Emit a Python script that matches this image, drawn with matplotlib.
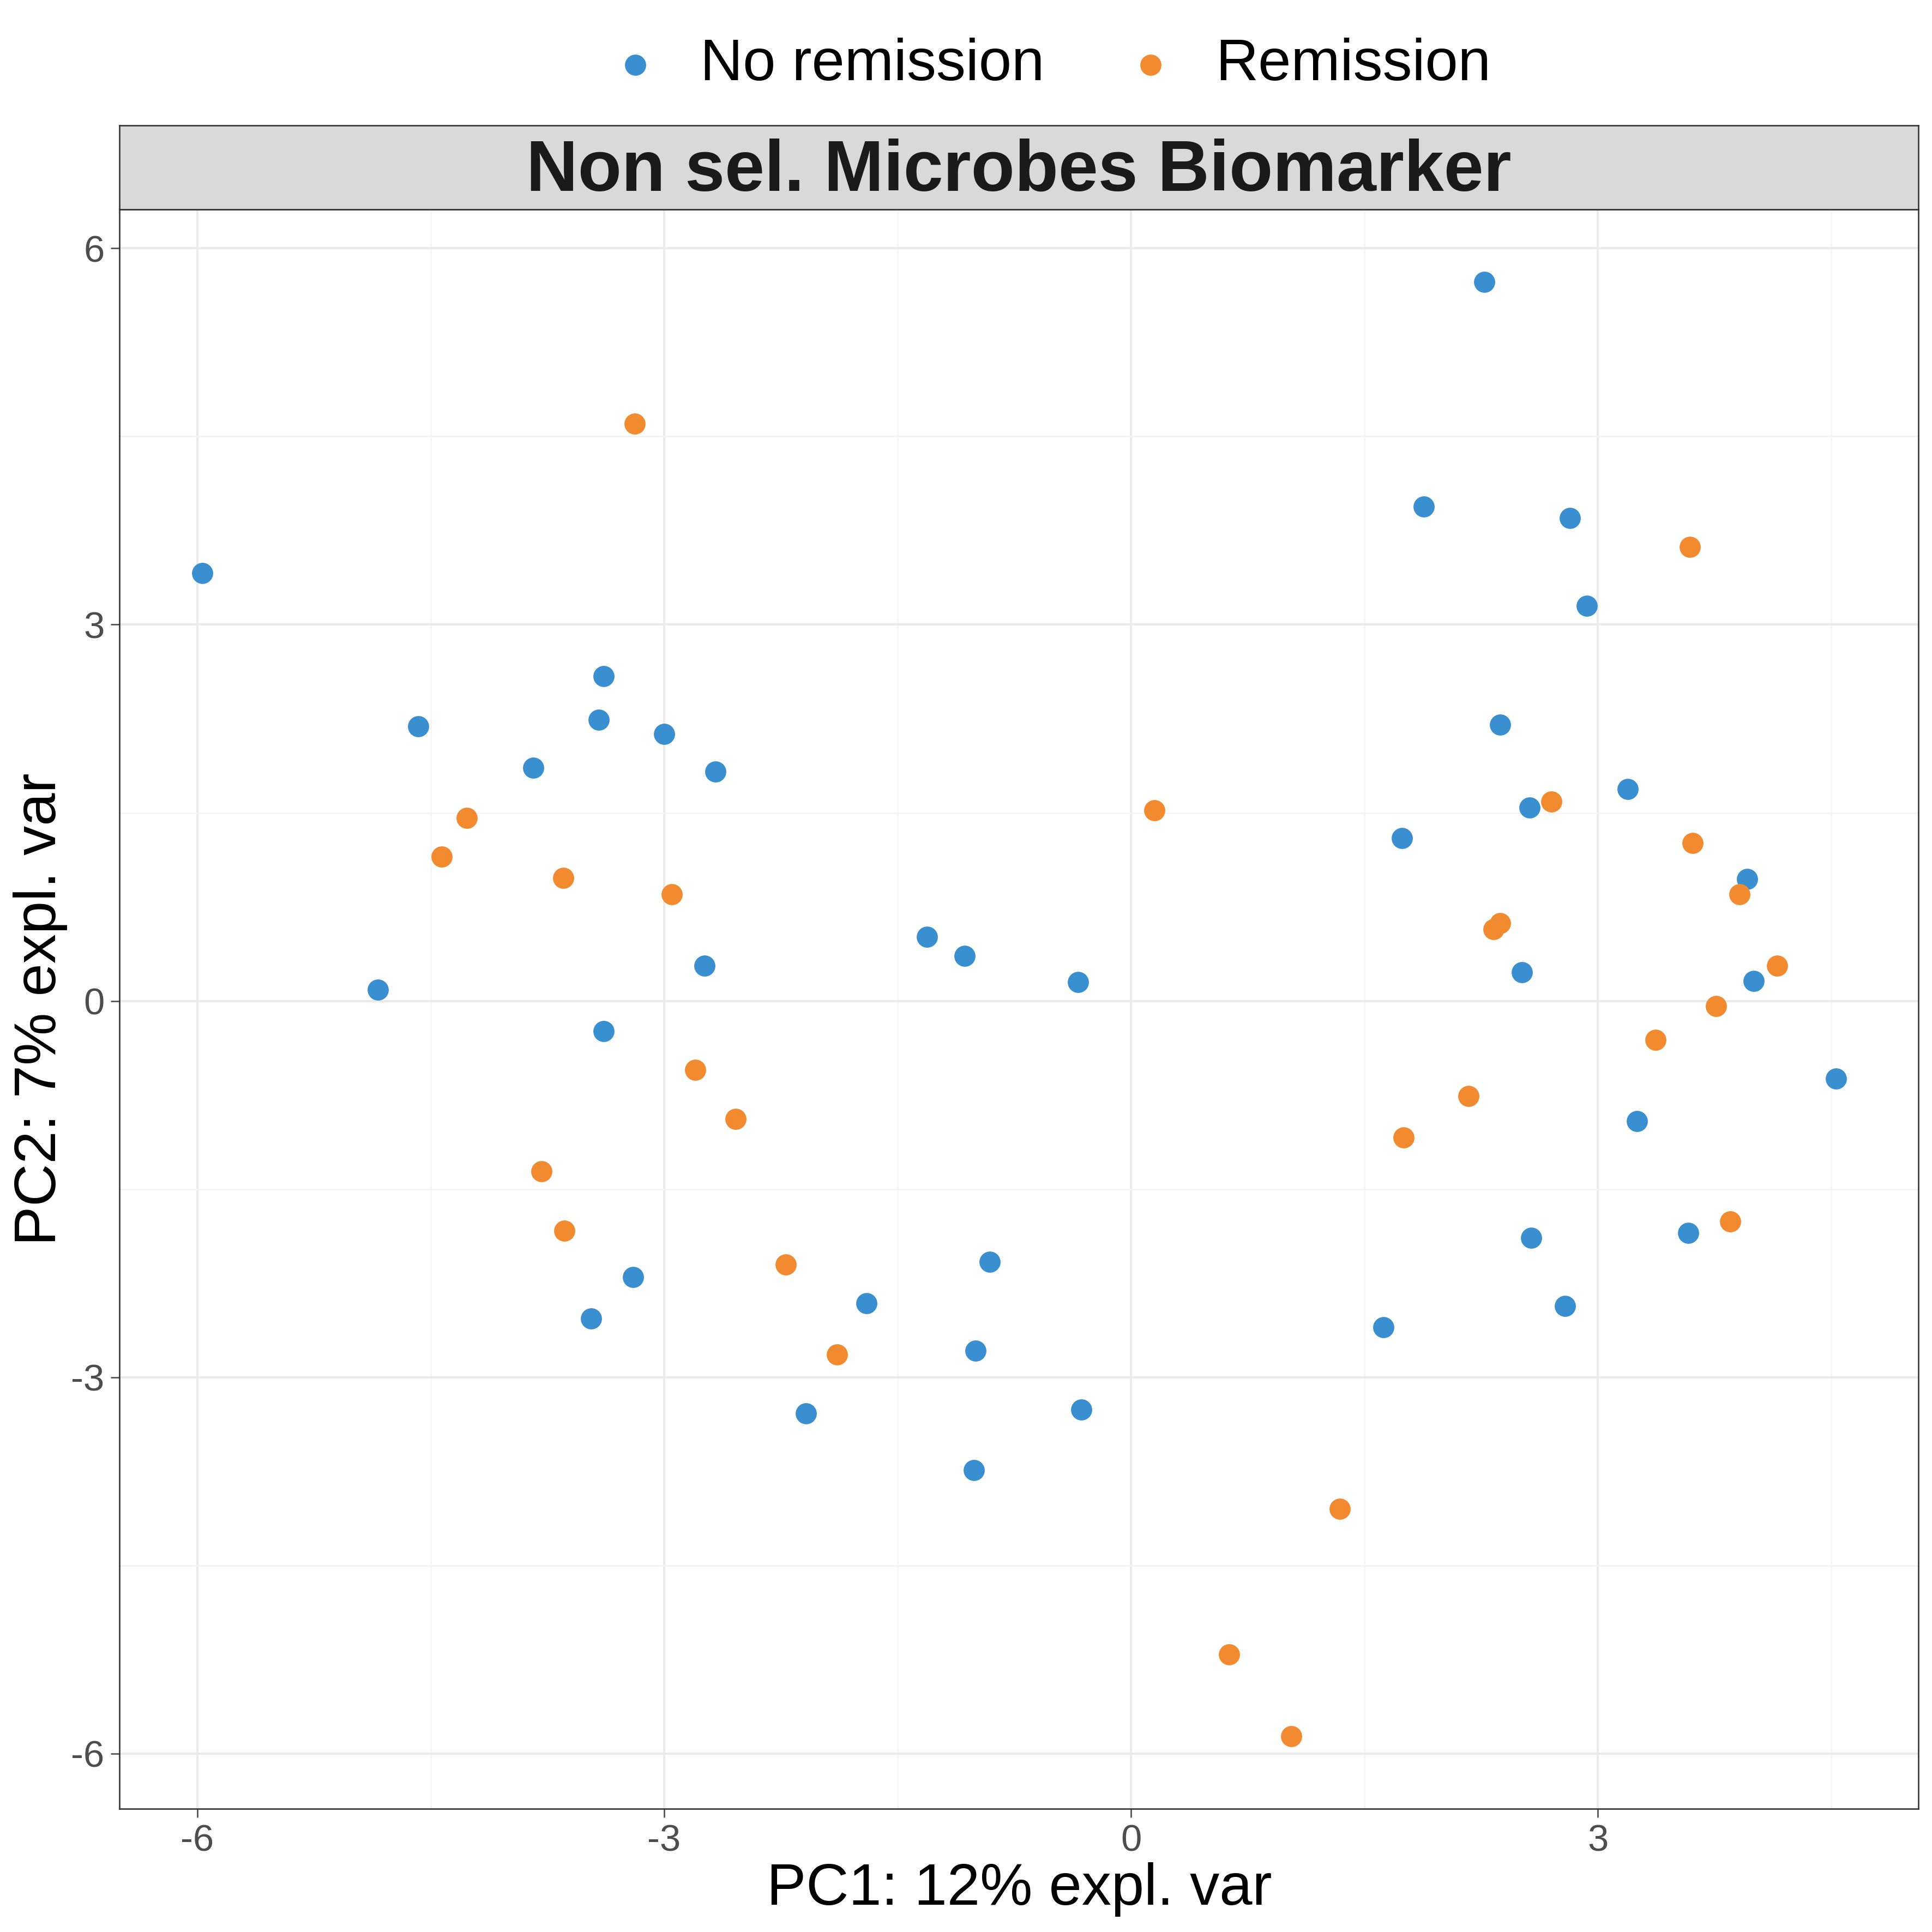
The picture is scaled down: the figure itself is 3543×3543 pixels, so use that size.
import matplotlib
matplotlib.use("Agg")
import matplotlib.pyplot as plt

plt.rcParams['font.family'] = ['Liberation Sans', 'DejaVu Sans']
plt.rcParams['axes.unicode_minus'] = False

no_rem_x = [-5.97, -4.58, -4.84, -3.84, -3.42, -3.39, -3.00, -2.67, -2.74, -3.39, -3.20, -3.47,
            -1.31, -1.07, -0.34, -0.91, -1.70, -2.09, -1.00, -1.01, -0.32,
            2.27, 1.88, 2.82, 2.93, 2.37, 3.19, 2.56, 1.74, 3.96, 2.51, 4.00, 4.53, 3.25,
            2.57, 3.58, 2.79, 1.62]
no_rem_y = [3.41, 2.19, 0.09, 1.86, 2.24, 2.59, 2.13, 1.83, 0.28, -0.24, -2.20, -2.53,
            0.51, 0.36, 0.15, -2.08, -2.41, -3.29, -2.79, -3.74, -3.26,
            5.73, 3.94, 3.85, 3.15, 2.20, 1.69, 1.54, 1.30, 0.97, 0.23, 0.16, -0.62, -0.96,
            -1.89, -1.85, -2.43, -2.60]
rem_x = [-3.19, -4.27, -4.43, -3.65, -2.95, -2.80, -2.54, -3.79, -3.64, -2.22, -1.89,
         0.15, 2.70, 3.59, 3.61, 3.91, 2.37, 2.33, 4.15, 3.76, 3.37, 2.17, 1.75, 3.85,
         1.34, 0.63, 1.03]
rem_y = [4.60, 1.46, 1.15, 0.98, 0.85, -0.55, -0.94, -1.36, -1.83, -2.10, -2.82,
         1.52, 1.59, 3.62, 1.26, 0.85, 0.62, 0.57, 0.28, -0.04, -0.31, -0.76, -1.09, -1.76,
         -4.05, -5.21, -5.86]

fig = plt.figure(figsize=(15, 15), dpi=236.2)
ax = fig.add_axes([0.0619, 0.0638, 0.9311, 0.8278])
ax.set_xlim(-6.50, 5.06)
ax.set_ylim(-6.44, 6.31)
ax.set_xticks([-6, -3, 0, 3])
ax.set_yticks([-6, -3, 0, 3, 6])
ax.set_xticks([-4.5, -1.5, 1.5, 4.5], minor=True)
ax.set_yticks([-4.5, -1.5, 1.5, 4.5], minor=True)
ax.grid(True, which='major', color='#ebebeb', lw=1.3)
ax.grid(True, which='minor', color='#f4f4f4', lw=0.8)
ax.set_axisbelow(True)
ax.tick_params(which='minor', length=0)
ax.tick_params(which='major', labelsize=21, colors='#4d4d4d', length=5)
for s in ax.spines.values():
    s.set_color('#333333')

ax.scatter(no_rem_x, no_rem_y, s=140, color='#3A8FD1', label='No remission', zorder=3, lw=0)
ax.scatter(rem_x, rem_y, s=140, color='#F28A30', label='Remission', zorder=3, lw=0)

ax.set_xlabel('PC1: 12% expl. var', fontsize=33, labelpad=2)
ax.set_ylabel('PC2: 7% expl. var', fontsize=33, labelpad=2)

strip = fig.add_axes([0.0619, 0.8916, 0.9311, 0.0434])
strip.set_xticks([]); strip.set_yticks([])
strip.set_facecolor('#d9d9d9')
for s in strip.spines.values():
    s.set_color('#333333')
strip.text(0.5, 0.45, 'Non sel. Microbes Biomarker', ha='center', va='center',
           fontsize=40, fontweight='bold', color='#1a1a1a', transform=strip.transAxes)

fig.legend(loc='upper center', bbox_to_anchor=(0.535, 1.008), ncol=2, frameon=False,
           fontsize=33, markerscale=1.0, handletextpad=0.1, columnspacing=0.8)

fig.savefig('out.png', dpi=236.2)
